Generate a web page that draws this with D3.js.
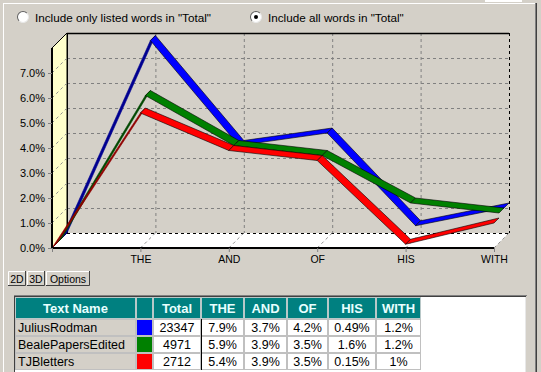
<!DOCTYPE html>
<meta charset="utf-8">
<style>
  body { margin: 0; background: #d4d0c8; }
  svg { display: block; font-family: "Liberation Sans", Arial, sans-serif; }
</style>
<body>
<script src="https://d3js.org/d3.v7.min.js"></script>
<div id="chart"></div>
<script>
  const categories = ["THE", "AND", "OF", "HIS", "WITH"];
  const seriesNames = ["JuliusRodman", "BealePapersEdited", "TJBletters"];
  const seriesColors = ["#0000ff", "#008000", "#ff0000"];
  const totals = [23347, 4971, 2712];
  const juliusRodman = [7.9, 3.7, 4.2, 0.49, 1.2];
  const bealePapers = [5.9, 3.9, 3.5, 1.6, 1.2];
  const tjbLetters = [5.4, 3.9, 3.5, 0.15, 1];
  const yTicks = [0, 1, 2, 3, 4, 5, 6, 7];
  const radioLabels = ['Include only listed words in "Total"', 'Include all words in "Total"'];
  const buttonLabels = ["2D", "3D", "Options"];
  const tableHeaders = ["Text Name", "", "Total"].concat(categories);

  const seriesValues = [juliusRodman, bealePapers, tjbLetters];

  const W = 541, H = 372;
  const svg = d3.select("#chart").append("svg").attr("width", W).attr("height", H);

  // panel frame
  svg.append("rect").attr("x", 0).attr("y", 0).attr("width", W).attr("height", H).attr("fill", "#d4d0c8");
  svg.append("rect").attr("x", 485).attr("y", 0).attr("width", 37).attr("height", 2).attr("fill", "#fff");
  svg.append("line").attr("x1", 3.5).attr("y1", 3).attr("x2", 3.5).attr("y2", H).attr("stroke", "#fff");
  svg.append("line").attr("x1", 3).attr("y1", 3.5).attr("x2", 536).attr("y2", 3.5).attr("stroke", "#fff");
  svg.append("line").attr("x1", 535.5).attr("y1", 3).attr("x2", 535.5).attr("y2", H).attr("stroke", "#808080");
  svg.append("line").attr("x1", 536.5).attr("y1", 3).attr("x2", 536.5).attr("y2", H).attr("stroke", "#404040");

  // radio buttons (sunken look)
  const radios = svg.append("g");
  const arcTL = d3.arc().innerRadius(5).outerRadius(6).startAngle(-Math.PI * 0.75).endAngle(Math.PI * 0.25);
  const arcBR = d3.arc().innerRadius(5).outerRadius(6).startAngle(Math.PI * 0.25).endAngle(Math.PI * 1.25);
  [23, 256].forEach((cx, i) => {
    radios.append("circle").attr("cx", cx).attr("cy", 17).attr("r", 5.5).attr("fill", "#fff");
    radios.append("path").attr("transform", `translate(${cx},17)`).attr("d", arcTL()).attr("fill", "#606060");
    radios.append("path").attr("transform", `translate(${cx},17)`).attr("d", arcBR()).attr("fill", "#e8e8e8");
    if (i === 1) radios.append("circle").attr("cx", cx).attr("cy", 17).attr("r", 2).attr("fill", "#000");
    radios.append("text").attr("x", cx + 12).attr("y", 21.5)
      .attr("font-size", "11.7px").attr("fill", "#000").text(radioLabels[i]);
  });

  // 3D chart geometry
  const depth = 15;
  const x = d3.scaleLinear().domain([0, categories.length]).range([52, 494]);
  const y = d3.scaleLinear().domain([0, 8]).range([248, 48]);
  const P = (i, v, z) => [x(i) + z, y(v) - z];

  const chart = svg.append("g");
  const dash = "3,3";

  // back wall grid
  yTicks.slice(1).forEach(t => {
    chart.append("line").attr("x1", x(0) + depth).attr("x2", x(5) + depth)
      .attr("y1", y(t) - depth + 0.5).attr("y2", y(t) - depth + 0.5)
      .attr("stroke", "#808080").attr("stroke-dasharray", dash);
  });
  categories.slice(0, 4).forEach((c, i) => {
    chart.append("line").attr("x1", x(i + 1) + depth + 0.5).attr("x2", x(i + 1) + depth + 0.5)
      .attr("y1", y(8) - depth).attr("y2", y(0) - depth)
      .attr("stroke", "#808080").attr("stroke-dasharray", dash);
  });
  chart.append("line").attr("x1", x(0) + depth).attr("x2", x(5) + depth)
    .attr("y1", y(8) - depth + 0.5).attr("y2", y(8) - depth + 0.5)
    .attr("stroke", "#000").attr("stroke-width", 1.5);
  chart.append("line").attr("x1", x(5) + depth + 0.5).attr("x2", x(5) + depth + 0.5)
    .attr("y1", y(8) - depth).attr("y2", y(0) - depth)
    .attr("stroke", "#000").attr("stroke-dasharray", dash);

  // floor
  const floor = [P(0, 0, 0), P(5, 0, 0), P(5, 0, depth), P(0, 0, depth)];
  chart.append("path").attr("d", "M" + floor.join("L") + "Z").attr("fill", "#fff");
  chart.append("line").attr("x1", x(0) + depth).attr("x2", x(5) + depth)
    .attr("y1", y(0) - depth + 0.5).attr("y2", y(0) - depth + 0.5)
    .attr("stroke", "#000").attr("stroke-dasharray", dash);
  d3.range(1, 6).forEach(i => {
    chart.append("line").attr("x1", x(i)).attr("y1", y(0)).attr("x2", x(i) + depth).attr("y2", y(0) - depth)
      .attr("stroke", "#909090").attr("stroke-dasharray", dash);
  });

  // left wall
  const wall = [P(0, 0, 0), P(0, 8, 0), P(0, 8, depth), P(0, 0, depth)];
  chart.append("path").attr("d", "M" + wall.join("L") + "Z").attr("fill", "#ffffcc")
    .attr("stroke", "#000").attr("stroke-width", 1);
  yTicks.slice(1).forEach(t => {
    chart.append("line").attr("x1", x(0)).attr("y1", y(t)).attr("x2", x(0) + depth).attr("y2", y(t) - depth)
      .attr("stroke", "#909090").attr("stroke-dasharray", dash);
  });
  chart.append("line").attr("x1", x(0) + depth + 0.5).attr("x2", x(0) + depth + 0.5)
    .attr("y1", y(8) - depth).attr("y2", y(0) - depth).attr("stroke", "#000");

  // ribbons, back to front
  seriesValues.forEach((vals, s) => {
    const z0 = (2 - s) * 5, z1 = z0 + 5;
    const pts = [0].concat(vals);
    const col = d3.color(seriesColors[s]);
    const dark = col.darker(1.6).formatHex();
    const g = chart.append("g");
    for (let k = 0; k < pts.length - 1; k++) {
      const a = P(k, pts[k], z0), b = P(k + 1, pts[k + 1], z0);
      const c = P(k + 1, pts[k + 1], z1), d = P(k, pts[k], z1);
      const sx = b[0] - a[0], sy = b[1] - a[1];
      const under = (-sx - sy) > 0;
      g.append("path").attr("d", "M" + [a, b, c, d].join("L") + "Z")
        .attr("fill", under ? dark : seriesColors[s])
        .attr("stroke", under ? dark : "#000").attr("stroke-width", 0.6)
        .attr("stroke-linejoin", "round");
    }
  });

  // front axes
  chart.append("line").attr("x1", x(0)).attr("x2", x(5)).attr("y1", y(0)).attr("y2", y(0))
    .attr("stroke", "#000").attr("stroke-width", 2);
  chart.append("line").attr("x1", x(0)).attr("x2", x(0)).attr("y1", y(8)).attr("y2", y(0))
    .attr("stroke", "#000").attr("stroke-width", 2);

  const yAxis = chart.append("g").attr("transform", `translate(${x(0)},0)`)
    .call(d3.axisLeft(y).tickValues(yTicks).tickSize(4).tickPadding(3).tickFormat(d => d.toFixed(1) + "%"));
  yAxis.select(".domain").remove();
  yAxis.selectAll("line").attr("stroke", "#808080");
  yAxis.selectAll("text").attr("font-size", "11px").attr("font-family", "Liberation Sans, Arial, sans-serif").attr("fill", "#000");

  const xAxis = chart.append("g").attr("transform", `translate(0,${y(0)})`)
    .call(d3.axisBottom(x).tickValues(d3.range(0, 6)).tickSize(4).tickPadding(4)
      .tickFormat(i => i === 0 ? "" : categories[i - 1]));
  xAxis.select(".domain").remove();
  xAxis.selectAll("line").attr("stroke", "#808080");
  xAxis.selectAll("text").attr("font-size", "10.5px").attr("font-family", "Liberation Sans, Arial, sans-serif").attr("fill", "#000");

  // buttons
  const bx = [8, 27, 46, 91];
  buttonLabels.forEach((lab, i) => {
    const g = svg.append("g");
    const x0 = bx[i], x1 = bx[i + 1] - 1, y0 = 271, y1 = 286;
    g.append("rect").attr("x", x0).attr("y", y0).attr("width", x1 - x0).attr("height", y1 - y0).attr("fill", "#d4d0c8");
    g.append("path").attr("d", `M${x0 + 0.5},${y1}V${y0 + 0.5}H${x1}`).attr("stroke", "#fff").attr("fill", "none");
    g.append("path").attr("d", `M${x0},${y1 - 0.5}H${x1 - 0.5}V${y0}`).attr("stroke", "#404040").attr("fill", "none");
    g.append("text").attr("x", (x0 + x1) / 2).attr("y", 282.5).attr("text-anchor", "middle")
      .attr("font-size", "10.5px").attr("fill", "#000").text(lab);
  });

  // table
  const cols = [15, 136, 153, 201, 244, 287, 328, 376, 421];
  const rowY = [297, 319, 336, 353, 370];
  const tbl = svg.append("g");
  tbl.append("rect").attr("x", 15).attr("y", 297).attr("width", 511).attr("height", 80).attr("fill", "#fff");
  tbl.append("line").attr("x1", 15).attr("x2", 526).attr("y1", 296.5).attr("y2", 296.5).attr("stroke", "#404040").attr("stroke-width", 1);
  tbl.append("line").attr("x1", 14).attr("x2", 527).attr("y1", 295.5).attr("y2", 295.5).attr("stroke", "#808080");
  tbl.append("line").attr("x1", 14.5).attr("x2", 14.5).attr("y1", 296).attr("y2", H).attr("stroke", "#404040");
  tbl.append("line").attr("x1", 525.5).attr("x2", 525.5).attr("y1", 297).attr("y2", H).attr("stroke", "#e8e8e8");

  // header
  tableHeaders.forEach((h, j) => {
    tbl.append("rect").attr("x", cols[j] + 0.5).attr("y", rowY[0] + 0.5)
      .attr("width", cols[j + 1] - cols[j] - 1).attr("height", rowY[1] - rowY[0] - 1)
      .attr("fill", "#008080").attr("stroke", "#b8c8c8");
    tbl.append("text").attr("x", (cols[j] + cols[j + 1]) / 2).attr("y", 313)
      .attr("text-anchor", "middle").attr("font-size", "13px").attr("font-weight", "bold")
      .attr("fill", "#e8ffff").text(h);
  });

  // rows
  seriesNames.forEach((name, r) => {
    const y0 = rowY[r + 1], y1 = rowY[r + 2];
    const cells = [name, "", totals[r]].concat(seriesValues[r].map(v => v + "%"));
    cells.forEach((c, j) => {
      const fill = j === 0 ? "#d4d0c8" : j === 1 ? seriesColors[r] : "#fff";
      tbl.append("rect").attr("x", cols[j] + 0.5).attr("y", y0 + 0.5)
        .attr("width", cols[j + 1] - cols[j] - 1).attr("height", y1 - y0 - 1)
        .attr("fill", fill).attr("stroke", "#c0c0c0");
      if (c !== "") {
        tbl.append("text")
          .attr("x", j === 0 ? cols[0] + 3 : (cols[j] + cols[j + 1]) / 2)
          .attr("y", y0 + 13)
          .attr("text-anchor", j === 0 ? "start" : "middle")
          .attr("font-size", "12.5px").attr("fill", "#000").text(c);
      }
    });
  });
  tbl.append("line").attr("x1", cols[3] + 0.5).attr("x2", cols[3] + 0.5)
    .attr("y1", rowY[1]).attr("y2", rowY[4]).attr("stroke", "#000");
</script>
</body>
